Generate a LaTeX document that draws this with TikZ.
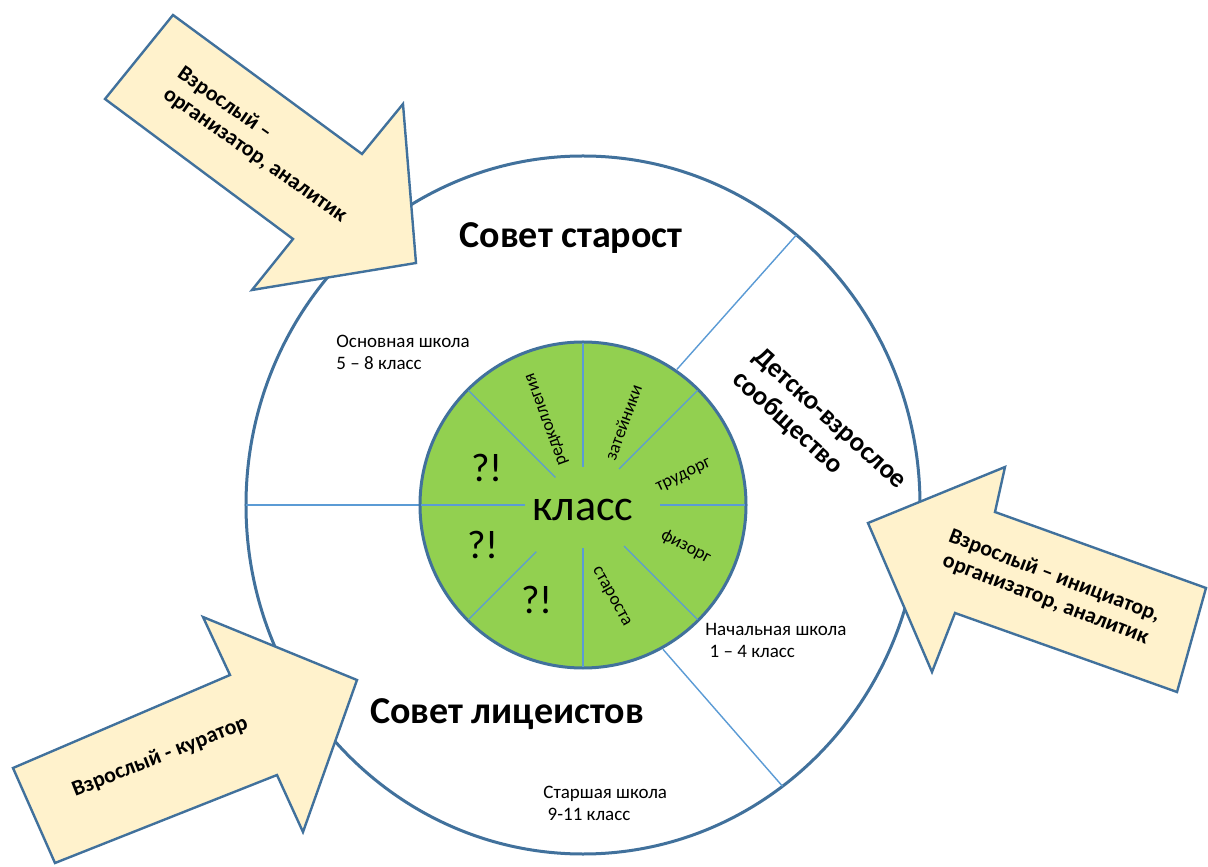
\documentclass[tikz,border=0pt]{standalone}
\usepackage{fontspec}
\setmainfont{Carlito}
\usepackage{tikz}
\usetikzlibrary{positioning}

\definecolor{arrowfill}{HTML}{FFF2CC}
\definecolor{rimblue}{HTML}{41719C}
\definecolor{lineblue}{HTML}{5B9BD5}
\definecolor{classgreen}{HTML}{92D050}

\tikzstyle{rim} = [draw=rimblue, line width=1.5pt]
\tikzstyle{spoke} = [draw=lineblue, line width=0.7pt]
\tikzstyle{bigarrow} = [draw=rimblue, fill=arrowfill, line width=1.2pt, line join=miter]
\tikzstyle{arrowtext} = [font=\fontsize{11}{12.5}\selectfont\bfseries, align=left, inner sep=0pt]
\tikzstyle{council} = [font=\fontsize{19}{21}\selectfont\bfseries, inner sep=0pt]
\tikzstyle{stage} = [font=\fontsize{9.5}{11}\selectfont, align=left, anchor=north west, inner sep=0pt]
\tikzstyle{role} = [font=\fontsize{9}{10}\selectfont, inner sep=0pt]
\tikzstyle{ask} = [font=\fontsize{20}{22}\selectfont, inner sep=0pt]

\begin{document}
\begin{tikzpicture}[x=0.5pt, y=0.5pt]
    \useasboundingbox (-583,-361) rectangle (625,505);
    \coordinate (c) at (0,0);

    % outer ring and class circle
    \draw[rim, fill=white] (c) ellipse [x radius=337, y radius=349];
    \draw[spoke] (180:163) -- (180:337);
    \draw[spoke] (55.3:165) -- ({337*cos(50.7)},{349*sin(50.7)});
    \draw[spoke] (-61:165) -- ({337*cos(-53.7)},{349*sin(-53.7)});
    \draw[rim, fill=classgreen] (c) circle [radius=163];
    \foreach \a/\r in {0/77,45/51,90/38,135/39,180/58,225/66,270/43,315/58}
        \draw[spoke] (\a:\r) -- (\a:162);

    \node (klass) at (0,-5) {\fontsize{22}{24}\selectfont класс};
    \node (red) [role, rotate=110] at (112.5:93) {редколлегия};
    \node (zat) [role, rotate=70] at (64:92) {затейники};
    \node (trud) [role, rotate=25] at (16:105) {трудорг};
    \node (fiz) [role, rotate=-28] at (-22:111) {физорг};
    \node (star) [role, rotate=-61] at (-73:96) {староста};
    \node (q1) [ask] at (-96,37) {?!};
    \node (q2) [ask] at (-100,-40) {?!};
    \node (q3) [ask] at (-46,-95) {?!};

    \node (sovst) [council] at (-12,267) {Совет старост};
    \node (sovlic) [council] at (-76,-209) {Совет лицеистов};
    \node (dvs) [font=\fontsize{13.5}{15.5}\selectfont\bfseries, align=left, rotate=-42, inner sep=0pt] at (236,74) {Детско-взрослое\\сообщество};

    \node (osn) [stage] at (-247,170) {Основная школа\\5 – 8 класс};
    \node (nach) [stage] at (122,-118) {Начальная школа\\\ 1 – 4 класс};
    \node (stsh) [stage] at (-40,-281) {Старшая школа\\\ 9-11 класс};

    % adult arrows
    \draw[bigarrow] (-410,490) -- (-221,351) -- (-180,401) -- (-167,242)
        -- (-331,215) -- (-290,266) -- (-478,406) -- cycle;
    \node (org) [arrowtext, rotate=-35] at (-321,360) {Взрослый –\\организатор, аналитик};

    \draw[bigarrow] (285,-18) -- (422,38) -- (412,-7) -- (623,-83)
        -- (594,-187) -- (372,-108) -- (349,-167) -- cycle;
    \node (ini) [arrowtext, align=center, rotate=-21] at (467,-83) {Взрослый – инициатор,\\организатор, аналитик};

    \draw[bigarrow] (-570,-263) -- (-353,-170) -- (-380,-112) -- (-226,-175)
        -- (-280,-327) -- (-306,-270) -- (-528,-358) -- cycle;
    \node (kur) [arrowtext, rotate=21.5] at (-423,-252) {Взрослый - куратор};
\end{tikzpicture}
\end{document}
